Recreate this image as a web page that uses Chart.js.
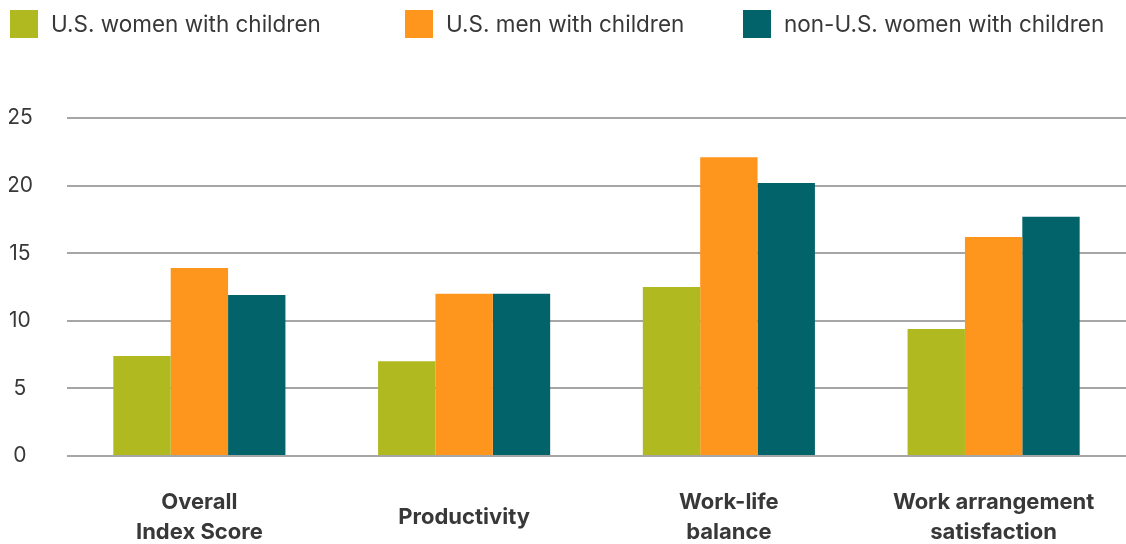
<!DOCTYPE html>
<html>
<head>
<meta charset="utf-8">
<script src="https://cdn.jsdelivr.net/npm/chart.js@4.4.1/dist/chart.umd.min.js"></script>
<style>
  html, body { margin: 0; padding: 0; background: #fff; }
  #wrap { width: 1126px; height: 544px; }
</style>
</head>
<body>
<div id="wrap"><canvas id="parentsChart"></canvas></div>
<script>
const categories = [
  ["Overall", "Index Score"],
  "Productivity",
  ["Work-life", "balance"],
  ["Work arrangement", "satisfaction"],
];
const usWomen = [7.4, 7.0, 12.5, 9.4];
const usMen = [13.9, 12.0, 22.1, 16.2];
const nonUsWomen = [11.9, 12.0, 20.2, 17.7];
const yTicks = [0, 5, 10, 15, 20, 25];

const textColor = "#383838";
const fontFamily = "Inter, 'Noto Sans', sans-serif";

const ctx = document.getElementById("parentsChart").getContext("2d");

function makeSet(label, data, color) {
  return {
    label,
    data,
    backgroundColor: color,
    borderWidth: 0,
    barPercentage: 1.0,
    categoryPercentage: 0.65,
  };
}

// legend row across the top, items spread out over the full width
const legendRow = {
  id: "legendRow",
  afterDraw(chart, args, opts) {
    const c = chart.ctx;
    c.save();
    c.font = `${opts.fontSize}px ${fontFamily}`;
    c.textBaseline = "middle";
    c.textAlign = "left";
    chart.data.datasets.forEach((ds, i) => {
      const x = opts.xs[i];
      c.fillStyle = ds.backgroundColor;
      c.fillRect(x, opts.top, opts.box, opts.box);
      c.fillStyle = textColor;
      c.fillText(ds.label, x + opts.box + opts.gap, opts.top + opts.box / 2 + 1);
    });
    c.restore();
  },
};

const chart = new Chart(ctx, {
  type: "bar",
  data: {
    labels: categories,
    datasets: [
      makeSet("U.S. women with children", usWomen, "#b0b91f"),
      makeSet("U.S. men with children", usMen, "#fe951c"),
      makeSet("non-U.S. women with children", nonUsWomen, "#02636b"),
    ],
  },
  plugins: [legendRow],
  options: {
    responsive: true,
    maintainAspectRatio: false,
    animation: false,
    layout: { padding: { left: 9, right: 0, top: 118, bottom: 0 } },
    plugins: {
      tooltip: { enabled: false },
      legend: { display: false },
      legendRow: { xs: [10, 405, 743], top: 10, box: 28, gap: 13, fontSize: 22.5 },
    },
    scales: {
      x: {
        grid: { display: false, drawTicks: false },
        border: { display: false },
        afterFit: (scale) => {
          // keep the labels from pushing the plot area inwards
          scale.height = 88;
          scale.paddingLeft = 0;
          scale.paddingRight = 0;
        },
        ticks: {
          color: textColor,
          padding: 46,
          crossAlign: "center",
          font: { family: fontFamily, size: 22, weight: "bold", lineHeight: 1.36 },
        },
      },
      y: {
        min: 0,
        max: 25,
        afterBuildTicks: (scale) => {
          scale.ticks = yTicks.map((v) => ({ value: v }));
        },
        afterFit: (scale) => {
          scale.width = 58;
        },
        grid: { color: "#a6a6a6", lineWidth: 2, drawTicks: false },
        border: { display: false },
        ticks: {
          color: textColor,
          padding: 34,
          crossAlign: "center",
          font: { family: fontFamily, size: 21 },
        },
      },
    },
  },
});
</script>
</body>
</html>
